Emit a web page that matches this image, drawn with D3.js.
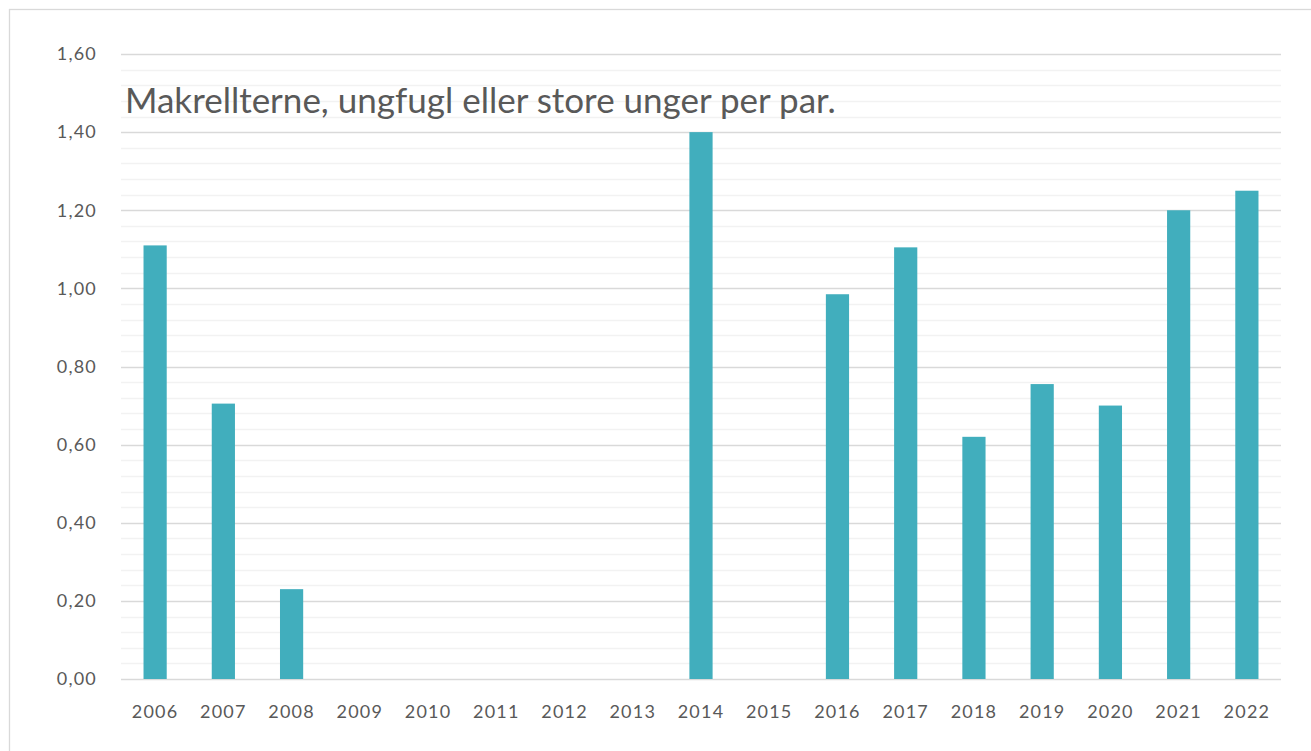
<!DOCTYPE html>
<meta charset="utf-8">
<head>
<style>
body { margin: 0; background: #fff; }
.tick text { fill: #595959; font-family: "Lato", "Open Sans", sans-serif; font-size: 18px; letter-spacing: 1.2px; }
.grid line { stroke: #d9d9d9; stroke-width: 1.3px; }
.minor line { stroke: #f2f2f2; stroke-width: 1.3px; }
.bars rect { fill: #41aebd; }
</style>
</head>
<body>
<svg></svg>
<script src="https://d3js.org/d3.v7.min.js"></script>
<script>
var years = ["2006","2007","2008","2009","2010","2011","2012","2013","2014","2015","2016","2017","2018","2019","2020","2021","2022"];
var values = [1.11, 0.705, 0.23, 0, 0, 0, 0, 0, 1.40, 0, 0.985, 1.105, 0.62, 0.755, 0.70, 1.20, 1.25];
var yTicks = [0, 0.2, 0.4, 0.6, 0.8, 1.0, 1.2, 1.4, 1.6];
var title = "Makrellterne, ungfugl eller store unger per par.";

var W = 1311, H = 751;
var margin = {top: 54, right: 30, bottom: 72, left: 121};
var width = W - margin.left - margin.right;
var height = H - margin.top - margin.bottom;

var svg = d3.select('svg').attr('width', W).attr('height', H);

// chart frame
svg.append('rect')
  .attr('x', 9.5).attr('y', 9.5)
  .attr('width', W).attr('height', H)
  .attr('fill', 'none').attr('stroke', '#d9d9d9').attr('stroke-width', 1.3);

var g = svg.append('g').attr('transform', 'translate(' + margin.left + ',' + margin.top + ')');

var x = d3.scaleBand().domain(years).range([0, width]).paddingInner(0.66).paddingOuter(0.33);
var y = d3.scaleLinear().domain([0, 1.6]).range([height, 0]);

// minor gridlines
g.append('g').attr('class', 'minor')
  .selectAll('line')
  .data(d3.range(0, 1.6001, 0.04).filter(function (v) { return Math.round(v * 100) % 20 !== 0; }))
  .enter().append('line')
  .attr('x1', 0).attr('x2', width)
  .attr('y1', function (d) { return Math.round(y(d)) + 0.5; })
  .attr('y2', function (d) { return Math.round(y(d)) + 0.5; });

// major gridlines
g.append('g').attr('class', 'grid')
  .selectAll('line')
  .data(yTicks)
  .enter().append('line')
  .attr('x1', 0).attr('x2', width)
  .attr('y1', function (d) { return Math.round(y(d)) + 0.5; })
  .attr('y2', function (d) { return Math.round(y(d)) + 0.5; });

// title
g.append('text')
  .attr('x', 4).attr('y', 59)
  .attr('fill', '#595959')
  .style('font-family', 'Lato, "Open Sans", sans-serif')
  .style('font-size', '35px')
  .text(title);

// bars
g.append('g').attr('class', 'bars')
  .selectAll('rect')
  .data(values.map(function (v, i) { return {year: years[i], value: v}; }).filter(function (d) { return d.value > 0; }))
  .enter().append('rect')
  .attr('x', function (d) { return x(d.year); })
  .attr('width', x.bandwidth())
  .attr('y', function (d) { return y(d.value); })
  .attr('height', function (d) { return height - y(d.value); });

// y axis
var yAxis = g.append('g')
  .call(d3.axisLeft(y).tickValues(yTicks).tickSize(0).tickPadding(24)
    .tickFormat(function (d) { return d3.format('.2f')(d).replace('.', ','); }));
yAxis.select('.domain').remove();

// x axis
var xAxis = g.append('g')
  .attr('transform', 'translate(0,' + height + ')')
  .call(d3.axisBottom(x).tickSize(0).tickPadding(26));
xAxis.select('.domain').remove();
</script>
</body>
</html>
